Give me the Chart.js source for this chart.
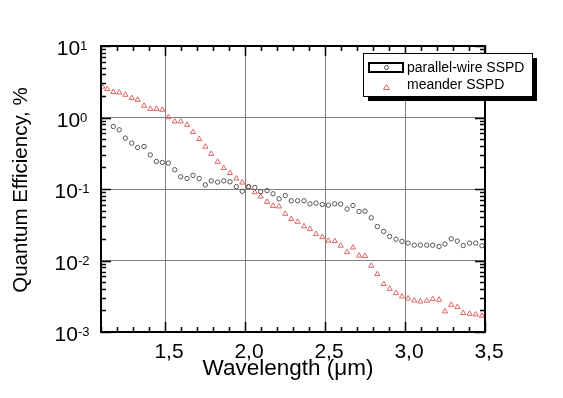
<!DOCTYPE html>
<html>
<head>
<meta charset="utf-8">
<script src="https://cdn.jsdelivr.net/npm/chart.js@4/dist/chart.umd.min.js"></script>
<style>
  html, body { margin: 0; padding: 0; background: #fff; }
  #wrap { width: 563px; height: 398px; }
</style>
</head>
<body>
<div id="wrap"><canvas id="qeChart"></canvas></div>
<script>
// wavelength, um
const wavelength = [1.108,1.139,1.177,1.214,1.252,1.292,1.329,1.369,1.408,1.446,1.483,1.521,1.561,1.598,1.638,1.675,1.714,1.752,1.789,1.829,1.867,1.906,1.946,1.983,2.022,2.061,2.098,2.138,2.175,2.213,2.252,2.289,2.329,2.369,2.406,2.444,2.483,2.521,2.561,2.598,2.638,2.675,2.713,2.750,2.789,2.827,2.867,2.904,2.944,2.981,3.019,3.058,3.096,3.136,3.173,3.213,3.250,3.289,3.327,3.364,3.404,3.442,3.481];

// quantum efficiency, %
const parallelQE = [null,null,0.748,0.673,0.515,0.438,0.38,0.393,0.30,0.243,0.235,0.23,0.186,0.148,0.14,0.155,0.14,0.114,0.130,0.125,0.13,0.126,0.108,0.093,0.108,0.105,0.092,0.095,0.0857,0.073,0.081,0.0684,0.0684,0.0684,0.062,0.0635,0.0607,0.0595,0.062,0.0615,0.0524,0.0588,0.0484,0.049,0.0396,0.0299,0.0255,0.0217,0.0199,0.0185,0.0175,0.0164,0.0164,0.0164,0.0164,0.0157,0.017,0.0201,0.0187,0.0162,0.0175,0.0175,0.0161];
const meanderQE = [2.7,2.5,2.27,2.24,2.08,1.87,1.77,1.46,1.32,1.32,1.28,1.01,0.88,0.88,0.79,0.625,0.50,0.39,0.31,0.24,0.196,0.167,0.14,0.123,0.107,0.090,0.0785,0.066,0.058,0.057,0.045,0.038,0.0348,0.030,0.0275,0.0234,0.0212,0.0189,0.0187,0.0161,0.0131,0.0152,0.0117,0.0116,0.00844,0.00645,0.00468,0.00402,0.0035,0.00314,0.00294,0.00276,0.00267,0.00274,0.00288,0.00282,0.00194,0.0024,0.00223,0.00184,0.0018,0.00176,0.00169];

const seriesNames = ["parallel-wire SSPD", "meander SSPD"];
const xTicks = [1.5, 2.0, 2.5, 3.0, 3.5];
const xTickLabels = ["1,5", "2,0", "2,5", "3,0", "3,5"];
const yTicks = [1e-3, 1e-2, 1e-1, 1, 10];
const yTickExp = ["-3", "-2", "-1", "0", "1"];

const FONT = "'Liberation Sans', Arial, sans-serif";
const circleColor = "#555555";
const triColor = "#e06464";

// axes, ticks, labels and legend drawn Origin-style
const framePlugin = {
  id: "frame",
  afterDraw(chart) {
    const { ctx, chartArea: a } = chart;
    const xs = chart.scales.x, ys = chart.scales.y;
    ctx.save();
    ctx.strokeStyle = "#000";
    ctx.lineWidth = 1.5;

    // x ticks, bottom and top
    for (let v = 1.1; v <= 3.5001; v += 0.1) {
      const px = Math.round(xs.getPixelForValue(v)) + 0.5;
      const major = Math.abs(v * 2 - Math.round(v * 2)) < 1e-6;
      const len = major ? 10 : 5;
      ctx.beginPath();
      ctx.moveTo(px, a.bottom); ctx.lineTo(px, a.bottom - len);
      ctx.moveTo(px, a.top); ctx.lineTo(px, a.top + len);
      ctx.stroke();
    }
    // y ticks, left and right
    for (let d = -3; d <= 1; d++) {
      for (let k = 1; k <= 9; k++) {
        const v = k * Math.pow(10, d);
        if (v > 10.0001) break;
        const py = Math.round(ys.getPixelForValue(v)) + 0.5;
        const len = k === 1 ? 10 : 5;
        ctx.beginPath();
        ctx.moveTo(a.left, py); ctx.lineTo(a.left + len, py);
        ctx.moveTo(a.right, py); ctx.lineTo(a.right - len, py);
        ctx.stroke();
      }
    }
    // frame
    ctx.lineWidth = 2;
    ctx.strokeRect(a.left, a.top, a.right - a.left, a.bottom - a.top);

    // x tick labels
    ctx.fillStyle = "#000";
    ctx.font = "21px " + FONT;
    ctx.textAlign = "center";
    ctx.textBaseline = "alphabetic";
    xTicks.forEach((v, i) => {
      ctx.fillText(xTickLabels[i], xs.getPixelForValue(v) + 4, a.bottom + 26);
    });

    // y tick labels 10^n, centred at x=72
    yTicks.forEach((v, i) => {
      const py = ys.getPixelForValue(v);
      ctx.font = "21px " + FONT;
      const wBase = ctx.measureText("10").width;
      ctx.font = "13px " + FONT;
      const wExp = ctx.measureText(yTickExp[i]).width;
      const x0 = 72 - (wBase + wExp) / 2;
      ctx.textAlign = "left";
      ctx.font = "21px " + FONT;
      ctx.fillText("10", x0, py + 9);
      ctx.font = "13px " + FONT;
      ctx.fillText(yTickExp[i], x0 + wBase, py + 4);
    });

    // axis titles
    ctx.font = "22.5px " + FONT;
    ctx.textAlign = "center";
    ctx.fillText("Wavelength (\u03bcm)", 288, 375);
    ctx.save();
    ctx.translate(27, 190);
    ctx.rotate(-Math.PI / 2);
    ctx.font = "20.5px " + FONT;
    ctx.fillText("Quantum Efficiency, %", 0, 0);
    ctx.restore();

    // legend box with shadow
    const lx = 363, ly = 53, lw = 169, lh = 43;
    ctx.fillStyle = "#000";
    ctx.fillRect(lx + 5, ly + 5, lw, lh);
    ctx.fillStyle = "#fff";
    ctx.fillRect(lx, ly, lw, lh);
    ctx.lineWidth = 1;
    ctx.strokeStyle = "#000";
    ctx.strokeRect(lx + 0.5, ly + 0.5, lw, lh);
    ctx.lineWidth = 2;
    ctx.strokeRect(369, 63, 34, 9);

    ctx.lineWidth = 1;
    ctx.strokeStyle = circleColor;
    ctx.beginPath();
    ctx.arc(386.5, 67.5, 2, 0, Math.PI * 2);
    ctx.stroke();
    ctx.strokeStyle = triColor;
    ctx.beginPath();
    ctx.moveTo(386.5, 84.5); ctx.lineTo(389.5, 89.5); ctx.lineTo(383.5, 89.5); ctx.closePath();
    ctx.stroke();

    ctx.fillStyle = "#000";
    ctx.font = "14px " + FONT;
    ctx.textAlign = "left";
    ctx.fillText(seriesNames[0], 407, 72);
    ctx.fillText(seriesNames[1], 407, 88.5);
    ctx.restore();
  }
};

new Chart(document.getElementById("qeChart"), {
  type: "scatter",
  data: {
    datasets: [
      {
        label: seriesNames[0],
        data: wavelength.map((x, i) => ({ x, y: parallelQE[i] })),
        pointStyle: "circle",
        pointRadius: 2.2,
        borderWidth: 1,
        borderColor: circleColor,
        backgroundColor: "transparent"
      },
      {
        label: seriesNames[1],
        data: wavelength.map((x, i) => ({ x, y: meanderQE[i] })),
        pointStyle: "triangle",
        pointRadius: 3,
        borderWidth: 1,
        borderColor: triColor,
        backgroundColor: "transparent"
      }
    ]
  },
  options: {
    responsive: true,
    maintainAspectRatio: false,
    animation: false,
    layout: { padding: { left: 101, right: 78, top: 46, bottom: 66 } },
    plugins: { legend: { display: false }, tooltip: { enabled: false } },
    scales: {
      x: {
        type: "linear",
        min: 1.1,
        max: 3.5,
        afterBuildTicks: s => { s.ticks = xTicks.map(v => ({ value: v })); },
        ticks: { display: false },
        grid: { color: "#808080", lineWidth: 1, drawTicks: false },
        border: { display: false }
      },
      y: {
        type: "logarithmic",
        min: 1e-3,
        max: 10,
        afterBuildTicks: s => { s.ticks = yTicks.map(v => ({ value: v, major: true })); },
        ticks: { display: false },
        grid: { color: "#808080", lineWidth: 1, drawTicks: false },
        border: { display: false }
      }
    }
  },
  plugins: [framePlugin]
});
</script>
</body>
</html>
